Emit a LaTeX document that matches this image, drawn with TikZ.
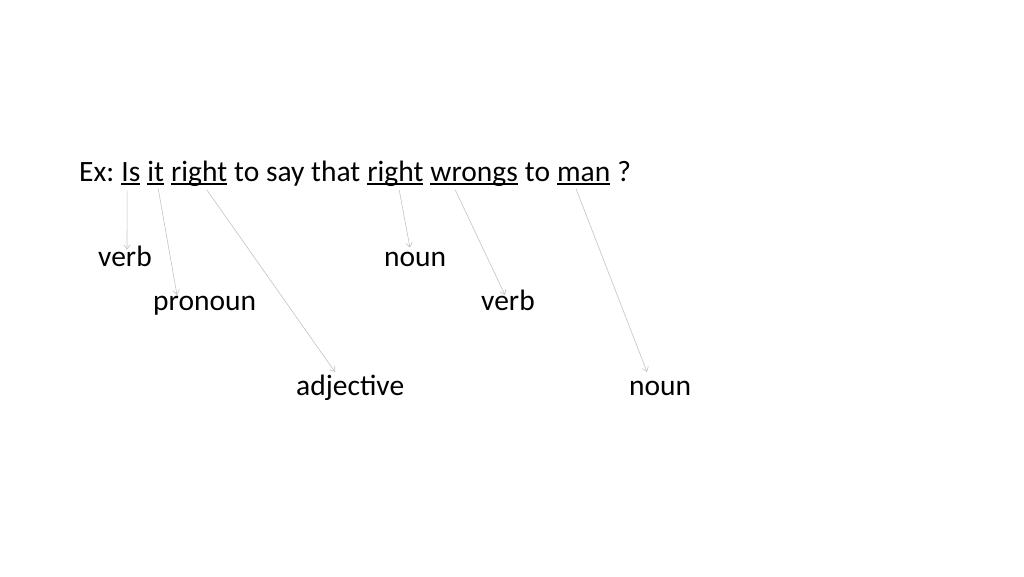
\documentclass[tikz,border=0pt]{standalone}
\usepackage{fontspec}
\setmainfont{Carlito}
\usetikzlibrary{arrows.meta,positioning}
\definecolor{arrgray}{RGB}{192,196,204}
\newcommand\uw[1]{\setbox0\hbox{#1}\rlap{\rule[-0.125em]{\wd0}{0.065em}}\box0}
\tikzset{
  txt/.style={inner sep=0pt,anchor=base west,font=\fontsize{29.5}{35}\selectfont},
  conn/.style={draw=arrgray,line width=0.6pt,-{Straight Barb[length=4.5pt,width=6.5pt]}},
}
\begin{document}
\begin{tikzpicture}[x=1pt,y=-1pt,node distance=6.67pt]
\useasboundingbox[fill=white] (0,0) rectangle (1024,576);
\node[txt] (ex) at (79,181.7) {Ex:};
\node[txt,base right=of ex] (is) {\uw{Is}};
\node[txt,base right=of is] (it) {\uw{it}};
\node[txt,base right=of it] (right1) {\uw{right}};
\node[txt,base right=of right1] (mid) {to say that};
\node[txt,base right=of mid] (right2) {\uw{right}};
\node[txt,base right=of right2] (wrongs) {\uw{wrongs}};
\node[txt,base right=of wrongs] (to) {to};
\node[txt,base right=of to] (man) {\uw{man}};
\node[txt,base right=of man] (q) {?};
\node[txt] (verb1) at (98,266.7) {verb};
\node[txt] (pron) at (153,310) {pronoun};
\node[txt] (adj) at (296,395) {adjective};
\node[txt] (noun1) at (384,266.7) {noun};
\node[txt] (verb2) at (481,310) {verb};
\node[txt] (noun2) at (629,395) {noun};
\draw[conn] ([xshift=6pt,yshift=-5pt]is.south west) -- ([xshift=29pt,yshift=17pt]verb1.base west);
\draw[conn] ([xshift=11pt,yshift=-3pt]it.south west) -- ([xshift=24pt,yshift=15pt]pron.base west);
\draw[conn] ([xshift=36pt,yshift=-3pt]right1.south west) -- ([xshift=39pt,yshift=23pt]adj.base west);
\draw[conn] ([xshift=32pt,yshift=-3pt]right2.south west) -- ([xshift=26pt,yshift=19pt]noun1.base west);
\draw[conn] ([xshift=25pt,yshift=-3pt]wrongs.south west) -- ([xshift=24pt,yshift=15pt]verb2.base west);
\draw[conn] ([xshift=19pt,yshift=-3pt]man.south west) -- ([xshift=18pt,yshift=23pt]noun2.base west);
\end{tikzpicture}
\end{document}
